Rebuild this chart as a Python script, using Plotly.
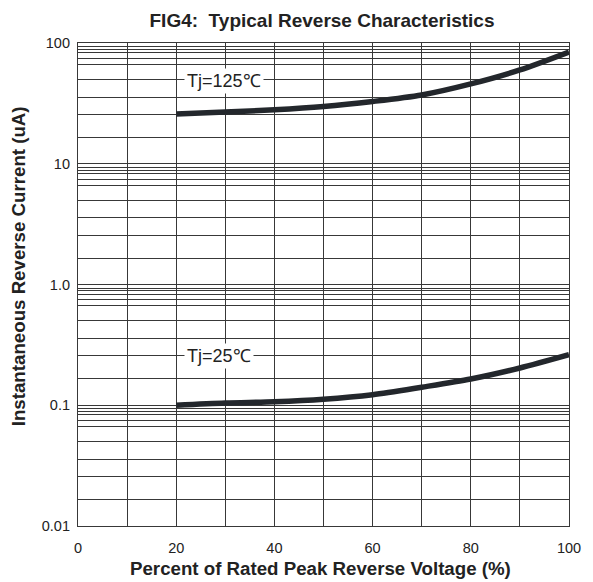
import math
import plotly.graph_objects as go

# ---- data ----
x_pct = [20, 30, 40, 50, 60, 70, 80, 90, 100]
ir_125 = [25.8, 26.8, 28.0, 29.8, 32.8, 37.1, 45.8, 59.8, 84.2]
ir_25 = [0.100, 0.1043, 0.1069, 0.1121, 0.1222, 0.141, 0.1648, 0.2033, 0.262]

y_decades = [100, 10, 1, 0.1, 0.01]
y_decade_labels = ["100", "10", "1.0", "0.1", "0.01"]
x_tick_vals = [0, 10, 20, 30, 40, 50, 60, 70, 80, 90, 100]
x_tick_labels = ["0", "", "20", "", "40", "", "60", "", "80", "", "100"]

# drawn (non-uniform) minor grid of the printed chart, as fraction of a decade below its top
grid_fracs = [0.029, 0.052, 0.080, 0.128, 0.178, 0.302, 0.449, 0.592, 0.782]

y_tick_vals = []
y_tick_text = []
for d, lab in zip(y_decades, y_decade_labels):
    y_tick_vals.append(d)
    y_tick_text.append(lab)
    if d > 0.01:
        for f in grid_fracs:
            y_tick_vals.append(10 ** (math.log10(d) - f))
            y_tick_text.append("")

FONT = "Liberation Sans, Arial, sans-serif"
INK = "#23272c"
GRID = "#383838"
TXT = "#222222"

# the page body adds an 8px margin; the figure is sized to fit the window
W, H = 585, 574

fig = go.Figure()
for ys in (ir_125, ir_25):
    fig.add_trace(go.Scatter(
        x=x_pct, y=ys, mode="lines",
        line=dict(color=INK, width=5.5, shape="spline", smoothing=0.8),
        showlegend=False, hoverinfo="skip",
    ))

fig.update_layout(
    width=W, height=H,
    margin=dict(l=70, r=22, t=35, b=56),
    paper_bgcolor="white", plot_bgcolor="white",
    font=dict(family=FONT, color=TXT, size=14),
    title=dict(
        text="<b>FIG4:  Typical Reverse Characteristics</b>",
        x=(322 - 8) / W, xanchor="center",
        y=1 - 12 / H, yanchor="middle", yref="container",
        font=dict(family=FONT, size=19, color=TXT),
    ),
    showlegend=False,
)

fig.update_xaxes(
    range=[0, 100], tickvals=x_tick_vals, ticktext=x_tick_labels,
    showgrid=True, gridcolor=GRID, gridwidth=1,
    showline=True, linecolor=GRID, linewidth=1.2, mirror=True,
    zeroline=False, ticks="", ticklabelstandoff=8,
    tickfont=dict(family=FONT, size=14.5, color=TXT),
)
fig.update_yaxes(
    type="log", range=[-2, 2], tickvals=y_tick_vals, ticktext=y_tick_text,
    showgrid=True, gridcolor=GRID, gridwidth=1,
    showline=True, linecolor=GRID, linewidth=1.2, mirror=True,
    zeroline=False, ticks="", ticklabelstandoff=4,
    tickfont=dict(family=FONT, size=14.5, color=TXT),
)

fig.add_annotation(
    text="<b>Percent of Rated Peak Reverse Voltage (%)</b>",
    xref="paper", yref="paper", x=(321 - 78) / 493, y=(526 - 568) / 483,
    xanchor="center", yanchor="middle", showarrow=False,
    font=dict(family=FONT, size=18.7, color=TXT),
)
fig.add_annotation(
    text="<b>Instantaneous Reverse Current (uA)</b>",
    xref="paper", yref="paper", x=(18 - 78) / 493, y=(526 - 266) / 483,
    xanchor="center", yanchor="middle", textangle=-90, showarrow=False,
    font=dict(family=FONT, size=18.7, color=TXT),
)
fig.add_annotation(
    text="Tj=125℃", x=21.5, y=math.log10(48.8), xref="x", yref="y",
    xanchor="left", yanchor="middle", showarrow=False,
    bgcolor="white", borderpad=2,
    font=dict(family=FONT, size=18, color=TXT),
)
fig.add_annotation(
    text="Tj=25℃", x=21.5, y=math.log10(0.257), xref="x", yref="y",
    xanchor="left", yanchor="middle", showarrow=False,
    bgcolor="white", borderpad=2,
    font=dict(family=FONT, size=18, color=TXT),
)

fig.write_html("out.html")
